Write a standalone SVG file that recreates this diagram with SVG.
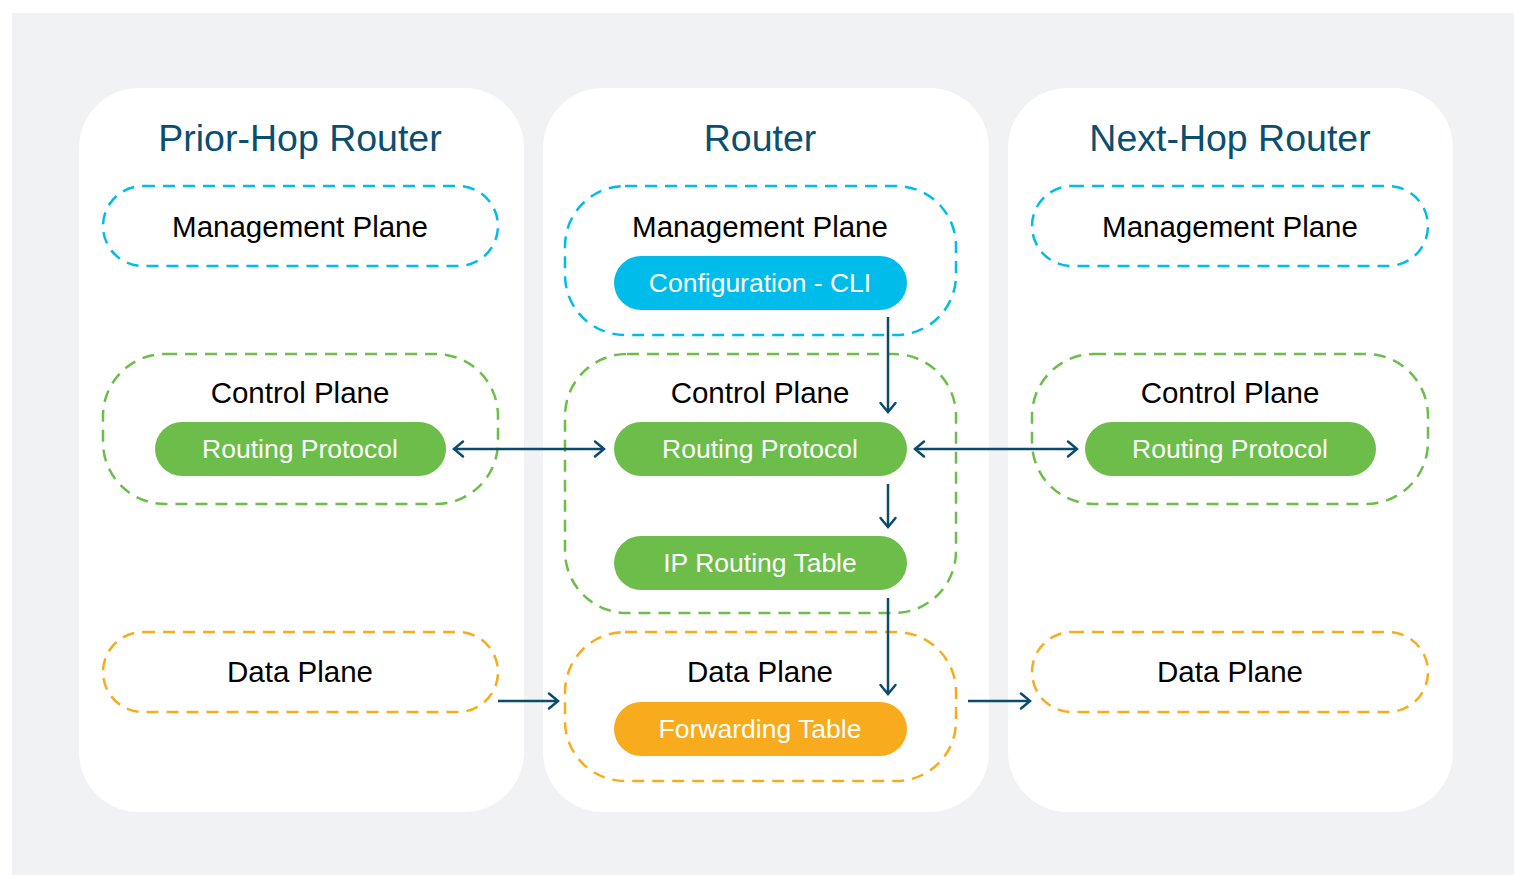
<svg xmlns="http://www.w3.org/2000/svg" width="1514" height="875" viewBox="0 0 1514 875">
<style>
.panel{fill:#ffffff}
.title{font-family:"Liberation Sans",Arial,sans-serif;font-size:37.5px;fill:#0a4f70;text-anchor:middle}
.plane{font-family:"Liberation Sans",Arial,sans-serif;font-size:29.5px;fill:#000000;text-anchor:middle}
.pilltext{font-family:"Liberation Sans",Arial,sans-serif;font-size:26.5px;fill:#ffffff;text-anchor:middle}
.dash{fill:none;stroke-width:2.5;stroke-dasharray:12 8}
.mg{stroke:#00bceb}
.ct{stroke:#6cbd4a}
.dt{stroke:#f8ab1c}
.pill-b{fill:#00bceb}
.pill-g{fill:#6cbd4a}
.pill-o{fill:#f8ab1c}
.conn{fill:none;stroke:#0a4b6e;stroke-width:2.5}
</style>
<defs>
<marker id="chev" markerUnits="userSpaceOnUse" viewBox="-12 -10 14 20" refX="0" refY="0" markerWidth="14" markerHeight="20" orient="auto-start-reverse">
<path d="M-9,-7.5 L0,0 L-9,7.5" fill="none" stroke="#0a4b6e" stroke-width="2.5" stroke-linecap="round" stroke-linejoin="miter"/>
</marker>
</defs>
<rect x="12" y="13" width="1502" height="862" fill="#f1f2f4"/>

<g id="prior-hop-router">
<rect class="panel" x="79" y="88" width="445" height="724" rx="60"/>
<text class="title" x="300" y="151">Prior-Hop Router</text>
<g id="prior-mgmt">
<rect class="dash mg" x="103" y="186" width="395" height="80" rx="40"/>
<text class="plane" x="300" y="237">Management Plane</text>
</g>
<g id="prior-control">
<rect class="dash ct" x="103" y="354" width="395" height="150" rx="62"/>
<text class="plane" x="300" y="403">Control Plane</text>
<g id="prior-routing-protocol">
<rect class="pill-g" x="155" y="422" width="291" height="54" rx="27"/>
<text class="pilltext" x="300" y="458">Routing Protocol</text>
</g>
</g>
<g id="prior-data">
<rect class="dash dt" x="103" y="632" width="395" height="80" rx="40"/>
<text class="plane" x="300" y="682">Data Plane</text>
</g>
</g>

<g id="router">
<rect class="panel" x="543" y="88" width="446" height="724" rx="60"/>
<text class="title" x="760" y="151">Router</text>
<g id="router-mgmt">
<rect class="dash mg" x="565" y="186" width="391" height="149" rx="60"/>
<text class="plane" x="760" y="237">Management Plane</text>
<g id="router-cli">
<rect class="pill-b" x="614" y="256" width="293" height="54" rx="27"/>
<text class="pilltext" x="760" y="292">Configuration - CLI</text>
</g>
</g>
<g id="router-control">
<rect class="dash ct" x="565" y="354" width="391" height="259" rx="62"/>
<text class="plane" x="760" y="403">Control Plane</text>
<g id="router-routing-protocol">
<rect class="pill-g" x="614" y="422" width="293" height="54" rx="27"/>
<text class="pilltext" x="760" y="458">Routing Protocol</text>
</g>
<g id="router-ip-table">
<rect class="pill-g" x="614" y="536" width="293" height="54" rx="27"/>
<text class="pilltext" x="760" y="572">IP Routing Table</text>
</g>
</g>
<g id="router-data">
<rect class="dash dt" x="565" y="632" width="391" height="149" rx="60"/>
<text class="plane" x="760" y="682">Data Plane</text>
<g id="router-forwarding">
<rect class="pill-o" x="614" y="702" width="293" height="54" rx="27"/>
<text class="pilltext" x="760" y="738">Forwarding Table</text>
</g>
</g>
</g>

<g id="next-hop-router">
<rect class="panel" x="1008" y="88" width="445" height="724" rx="60"/>
<text class="title" x="1230" y="151">Next-Hop Router</text>
<g id="next-mgmt">
<rect class="dash mg" x="1032" y="186" width="396" height="80" rx="40"/>
<text class="plane" x="1230" y="237">Management Plane</text>
</g>
<g id="next-control">
<rect class="dash ct" x="1032" y="354" width="396" height="150" rx="62"/>
<text class="plane" x="1230" y="403">Control Plane</text>
<g id="next-routing-protocol">
<rect class="pill-g" x="1085" y="422" width="291" height="54" rx="27"/>
<text class="pilltext" x="1230" y="458">Routing Protocol</text>
</g>
</g>
<g id="next-data">
<rect class="dash dt" x="1032" y="632" width="396" height="80" rx="40"/>
<text class="plane" x="1230" y="682">Data Plane</text>
</g>
</g>

<g id="connectors">
<path class="conn" d="M888,317 L888,412" marker-end="url(#chev)"/>
<path class="conn" d="M888,484 L888,527" marker-end="url(#chev)"/>
<path class="conn" d="M888,598 L888,694" marker-end="url(#chev)"/>
<path class="conn" d="M454,449 L604,449" marker-start="url(#chev)" marker-end="url(#chev)"/>
<path class="conn" d="M915,449 L1077,449" marker-start="url(#chev)" marker-end="url(#chev)"/>
<path class="conn" d="M498,701 L558,701" marker-end="url(#chev)"/>
<path class="conn" d="M968,701 L1030,701" marker-end="url(#chev)"/>
</g>
</svg>
